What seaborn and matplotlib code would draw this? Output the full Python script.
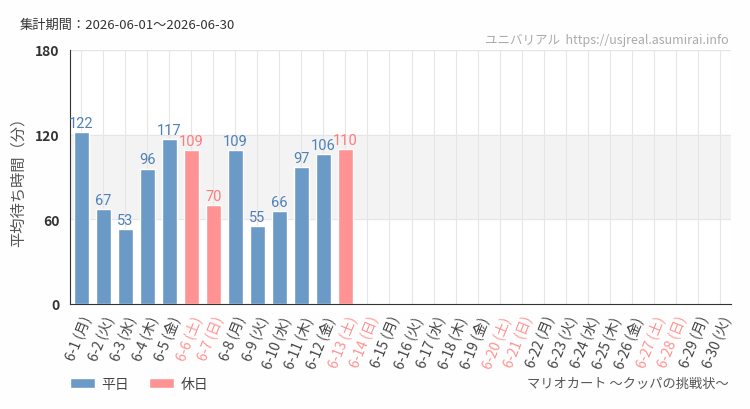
import matplotlib
matplotlib.use("Agg")
import matplotlib.pyplot as plt
import seaborn as sns
import numpy as np
import pandas as pd
from matplotlib.patches import Patch

sns.set_style("white")
plt.rcParams['font.family'] = ['Noto Sans CJK JP', 'DejaVu Sans']

days = [f"6-{d}" for d in range(1, 31)]
weekdays = ["月", "火", "水", "木", "金", "土", "日"]
dow = [weekdays[i % 7] for i in range(30)]
values = [122, 67, 53, 96, 117, 109, 70, 109, 55, 66, 97, 106, 110] + [np.nan] * 17
holiday = [d in ("土", "日") for d in dow]

BLUE = "#6b9ac6"
PINK = "#ff9393"
BLUE_T = "#4f80b8"
PINK_T = "#ff7b7b"

labels = [f"{d} ({w})" for d, w in zip(days, dow)]
df = pd.DataFrame({"day": labels, "value": values,
                   "type": ["休日" if h else "平日" for h in holiday]})

fig = plt.figure(figsize=(7.5, 4.1), dpi=100)
fig.patch.set_facecolor("#fdfefd")
ax = fig.add_axes([70/750, 1-305/410, (731-70)/750, (305-51)/410])
ax.set_facecolor("white")

ax.axhspan(60, 120, color="#f3f3f3", zorder=0)
for i in range(30):
    ax.axvline(i, color="#e6e6e6", lw=0.8, zorder=0.5)
ax.axhline(180, color="#e6e6e6", lw=1, zorder=0.5)
ax.axhline(120, color="#e6e6e6", lw=0.8, zorder=0.5)
ax.axhline(60, color="#e6e6e6", lw=0.8, zorder=0.5)

sns.barplot(data=df, x="day", y="value", hue="type", palette={"平日": BLUE, "休日": PINK},
            width=0.68, dodge=False, legend=False, ax=ax, saturation=1, zorder=2)

for i, v in enumerate(values):
    if not np.isnan(v):
        ax.text(i, v + 1.5, f"{int(v)}", ha="center", va="bottom", fontsize=10.5,
                color=PINK_T if holiday[i] else BLUE_T, family=["Roboto", "DejaVu Sans"])

ax.set_xlim(-0.5, 29.5)
ax.set_ylim(0, 180)
ax.set_yticks([0, 60, 120, 180])
ax.set_yticklabels(["0", "60", "120", "180"], fontsize=10, color="#333333", fontweight="bold")
ax.set_xticks(range(30))
ax.set_xticklabels(labels, rotation=68, ha="right", rotation_mode="anchor", fontsize=10)
for t, h in zip(ax.get_xticklabels(), holiday):
    t.set_color(PINK if h else "#444444")
ax.tick_params(axis="both", length=4, width=1, color="#333333", direction="out")
ax.tick_params(axis="x", pad=3)
ax.set_xlabel("")
ax.set_ylabel("平均待ち時間（分）", fontsize=11, color="#555555", labelpad=6)
for s in ["top", "right"]:
    ax.spines[s].set_visible(False)
ax.spines["left"].set_color("#333333")
ax.spines["bottom"].set_color("#333333")

fig.text(20/750, 1-25/410, "集計期間：2026-06-01～2026-06-30", fontsize=9.5, color="#333333", va="center")
fig.text(729/750, 1-40/410, "ユニバリアル  https://usjreal.asumirai.info", fontsize=9, color="#aaaaaa",
         va="center", ha="right")
fig.text(729/750, 1-384/410, "マリオカート ～クッパの挑戦状～", fontsize=9.5, color="#555555",
         va="center", ha="right")

handles = [Patch(facecolor=BLUE, label="平日"), Patch(facecolor=PINK, label="休日")]
fig.legend(handles=handles, loc="center left", bbox_to_anchor=(57/750, 1-385/410), ncol=2,
           frameon=False, fontsize=10, handlelength=1.8, handleheight=0.8, columnspacing=1.4,
           handletextpad=0.5, labelcolor="#444444")

fig.savefig("out.png", dpi=100, facecolor=fig.get_facecolor())
